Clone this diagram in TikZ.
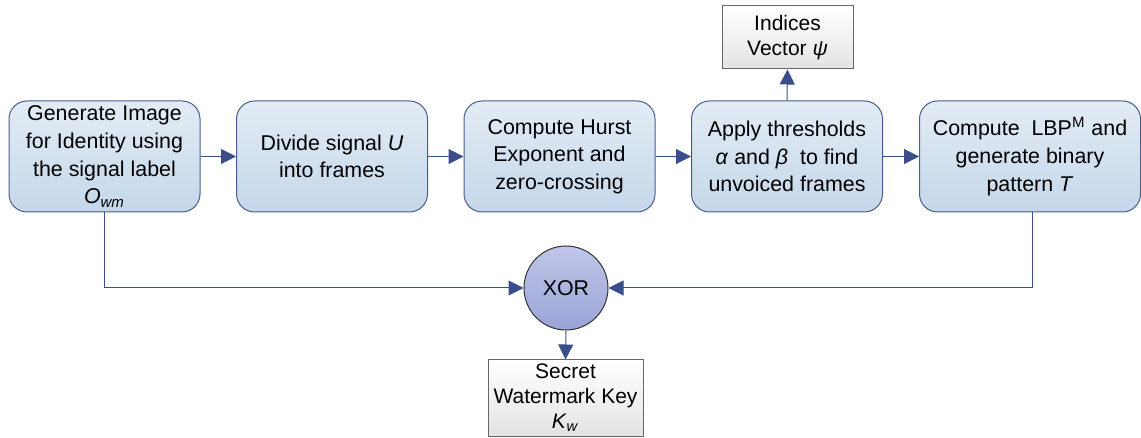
\documentclass[tikz,border=0pt]{standalone}
\usepackage{fontspec}
\setmainfont{Liberation Sans}
\usetikzlibrary{arrows.meta,shapes.geometric}
\definecolor{boxborder}{HTML}{4A5C8C}
\definecolor{boxtop}{HTML}{E3ECF5}
\definecolor{boxbot}{HTML}{C4D7E9}
\definecolor{arrowcol}{HTML}{3B4E8C}
\definecolor{xortop}{HTML}{C0C6E8}
\definecolor{xorbot}{HTML}{9AA4D6}
\tikzset{
  procbox/.style={draw=boxborder, line width=0.5pt, rounded corners=9pt,
    top color=boxtop, bottom color=boxbot, align=center,
    minimum width=95.5pt, minimum height=55.5pt, inner sep=1pt,
    font=\fontsize{10.7}{13.8}\selectfont},
  graybox/.style={draw=gray!80!black, line width=0.5pt, top color=white, bottom color=gray!22,
    align=center, inner sep=1pt, font=\fontsize{10.5}{12.5}\selectfont},
  xornode/.style={circle, draw=black!80, line width=0.5pt, top color=xortop, bottom color=xorbot,
    minimum size=42pt, inner sep=0pt, font=\fontsize{10.7}{12}\selectfont},
  conn/.style={draw=arrowcol, line width=0.5pt, -{Triangle[length=7.5pt,width=7.5pt]}, color=arrowcol}
}
\begin{document}
\begin{tikzpicture}[x=0.5pt,y=-0.5pt]
\useasboundingbox (0,0) rectangle (1141,438);
\node[procbox] (b1) at (104.5,156.5) {Generate Image\\for Identity using\\the signal label\\\textit{O}\textsubscript{\textit{wm}}};
\node[procbox] (b2) at (332,156.5) {Divide signal \textit{U}\\into frames};
\node[procbox] (b3) at (559.5,156.5) {Compute Hurst\\Exponent and\\zero-crossing};
\node[procbox] (b4) at (787,156.5) {Apply thresholds\\\textit{α} and \textit{β} \ to find\\unvoiced frames};
\node[procbox, minimum width=110.5pt] (b5) at (1030,156.5) {Compute \ LBP\textsuperscript{M} and\\generate binary\\pattern \textit{T}};
\node[graybox, minimum width=65.5pt, minimum height=31.5pt] (ind) at (787.5,37.5) {Indices\\Vector \textit{ψ}};
\node[xornode] (xor) at (566,288) {XOR};
\node[graybox, minimum width=77.5pt, minimum height=38pt] (key) at (565.5,398) {Secret\\Watermark Key\\\textit{K}\textsubscript{\textit{w}}};
\coordinate (c1) at (104,288);
\coordinate (c5) at (1032,288);
\draw[conn] (b1) -- (b2);
\draw[conn] (b2) -- (b3);
\draw[conn] (b3) -- (b4);
\draw[conn] (b4) -- (b5);
\draw[conn] (b4.north) -- (ind.south);
\draw[conn] (b1.south -| c1) -- (c1) -- (xor.west);
\draw[conn] (b5.south -| c5) -- (c5) -- (xor.east);
\draw[conn] (xor.south) -- (key.north);
\end{tikzpicture}
\end{document}
